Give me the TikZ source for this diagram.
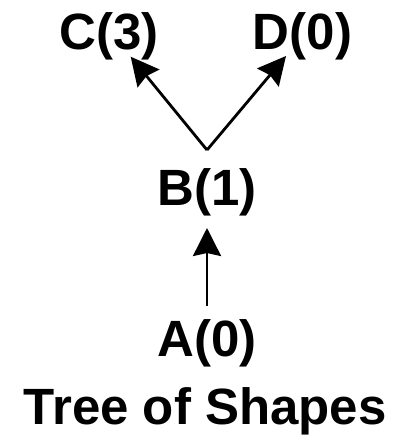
\documentclass[tikz,border=0pt]{standalone}
\usepackage{fontspec}
\setmainfont{Liberation Sans}
\usetikzlibrary{arrows.meta}
\begin{document}
\begin{tikzpicture}[x=1pt,y=-1pt,
  lbl/.style={font=\bfseries\fontsize{51}{56}\selectfont, inner sep=0pt, anchor=base},
  arr/.style={line width=2.8pt, -{Stealth[length=28pt,width=28pt,inset=3pt]}}]
\useasboundingbox (0,0) rectangle (396,436);
\node[lbl] (C) at (109,50) {C(3)};
\node[lbl] (D) at (302.5,50) {D(0)};
\node[lbl] (B) at (207,205) {B(1)};
\node[lbl] (A) at (207,356) {A(0)};
\node[lbl] (T) at (205.3,424.5) {Tree of Shapes};
\coordinate (bv) at (207,150);
\coordinate (ct) at (130.7,56.7);
\coordinate (dt) at (286,56);
\coordinate (ab) at (207,306);
\coordinate (at) at (207,228);
\draw[arr] (bv) -- (ct);
\draw[arr] (bv) -- (dt);
\draw[arr] (ab) -- (at);
\end{tikzpicture}
\end{document}
